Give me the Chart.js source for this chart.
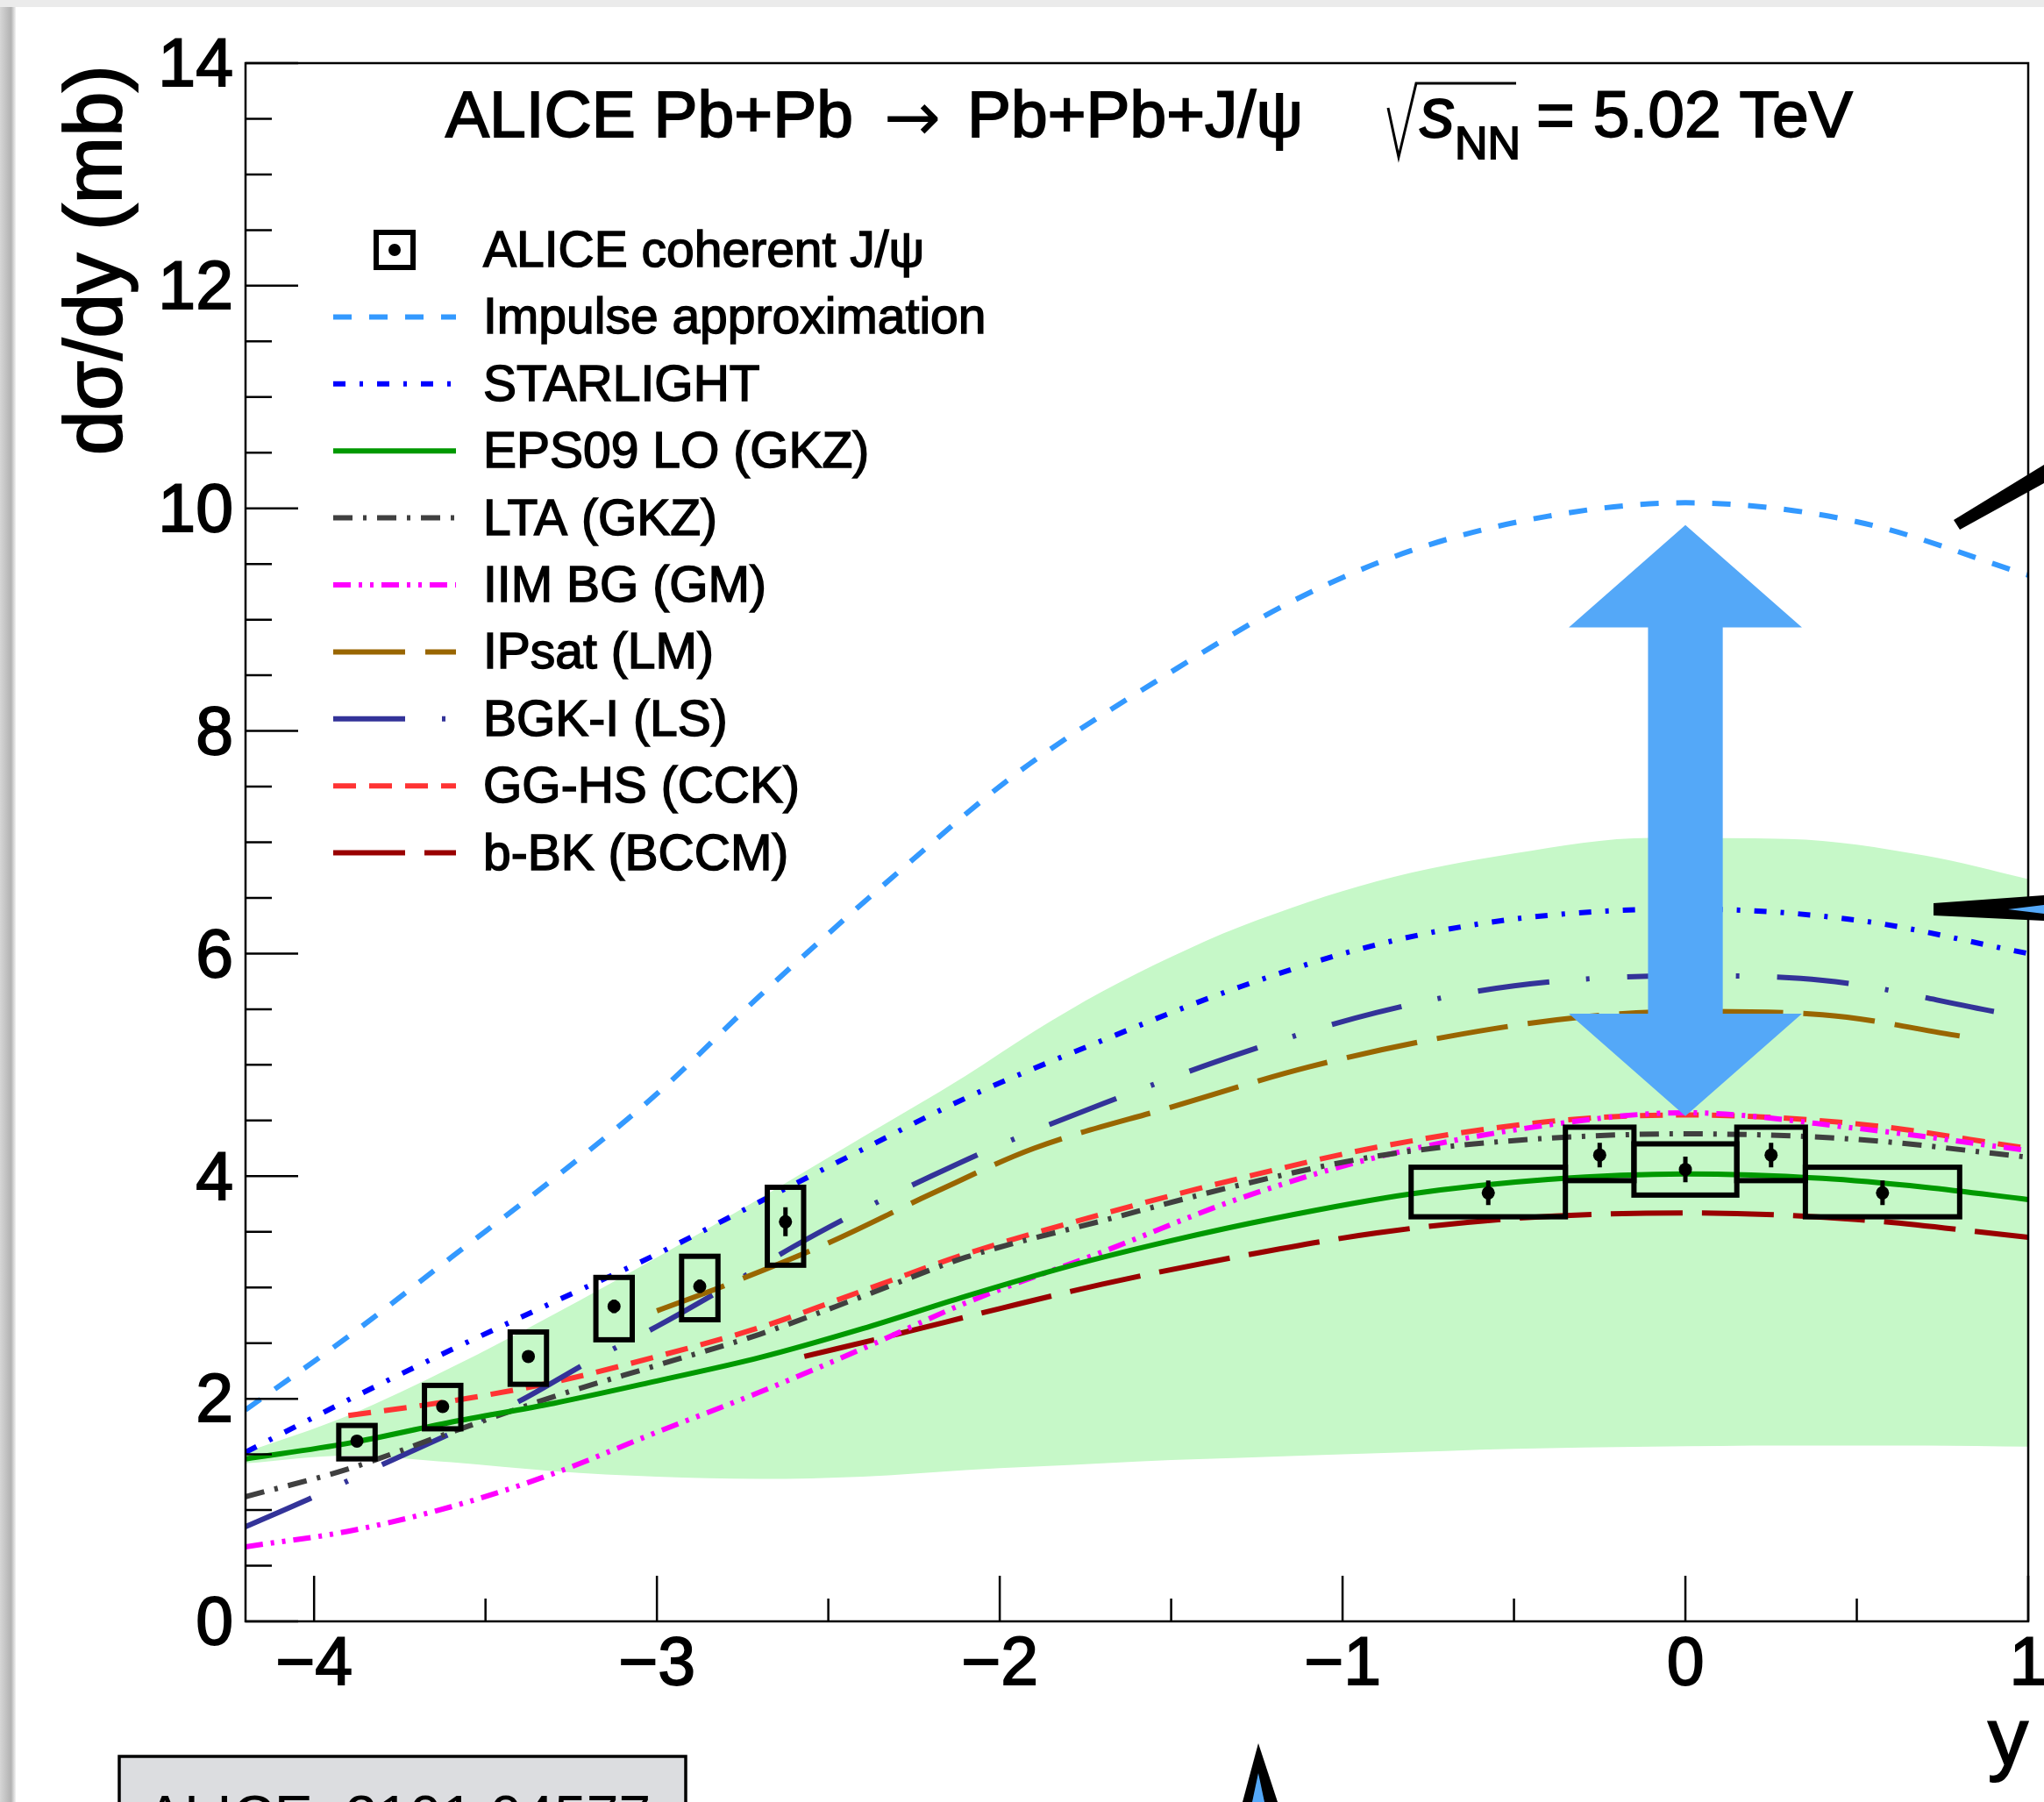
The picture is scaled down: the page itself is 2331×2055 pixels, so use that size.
<!DOCTYPE html>
<html>
<head>
<meta charset="utf-8">
<script src="https://cdn.jsdelivr.net/npm/chart.js@4.4.1/dist/chart.umd.min.js"></script>
<style>
  html, body { margin: 0; padding: 0; background: #fff; overflow: hidden; }
  canvas { display: block; }
</style>
</head>
<body>
<canvas id="c" width="2331" height="2055"></canvas>
<script>
// axes
const xTickValues = [-4, -3, -2, -1, 0, 1];
const xTickLabels = ['\u22124', '\u22123', '\u22122', '\u22121', '0', '1'];
const yTickValues = [0, 2, 4, 6, 8, 10, 12, 14];
const yTickLabels = ['0', '2', '4', '6', '8', '10', '12', '14'];

// ALICE coherent J/psi, forward + central rapidity
const aliceX = [-3.875, -3.625, -3.375, -3.125, -2.875, -2.625, -0.575, -0.25, 0, 0.25, 0.575];
const aliceY = [1.62, 1.93, 2.38, 2.83, 3.01, 3.59, 3.85, 4.19, 4.06, 4.19, 3.85];
const aliceStat = [0.04, 0.04, 0.05, 0.06, 0.06, 0.13, 0.11, 0.11, 0.115, 0.11, 0.11];
const aliceSysLo = [1.46, 1.73, 2.13, 2.53, 2.71, 3.20, 3.635, 3.96, 3.83, 3.96, 3.635];
const aliceSysHi = [1.76, 2.12, 2.60, 3.09, 3.28, 3.90, 4.08, 4.44, 4.29, 4.44, 4.08];
const aliceBoxLo = [-3.928, -3.678, -3.428, -3.178, -2.928, -2.678, -0.8, -0.35, -0.15, 0.15, 0.35];
const aliceBoxHi = [-3.822, -3.572, -3.322, -3.072, -2.822, -2.572, -0.35, -0.15, 0.15, 0.35, 0.8];

// models
const impulseX = [-4.2, -3.9, -3.6, -3.3, -3.0, -2.7, -2.3, -1.95, -1.5, -1.15, -0.8, -0.4, 0, 0.5, 1.0];
const impulseY = [1.90, 2.56, 3.27, 3.98, 4.74, 5.62, 6.72, 7.62, 8.53, 9.16, 9.62, 9.93, 10.05, 9.88, 9.40];

const starlightX = [-4.2, -3.9, -3.6, -3.3, -3.0, -2.7, -2.4, -2.1, -1.7, -1.3, -0.9, -0.5, 0, 0.5, 1.0];
const starlightY = [1.52, 1.99, 2.44, 2.87, 3.30, 3.77, 4.24, 4.70, 5.22, 5.70, 6.08, 6.31, 6.40, 6.30, 6.00];

const eps09X = [-4.2, -3.9, -3.6, -3.3, -3.0, -2.7, -2.4, -2.1, -1.8, -1.5, -1.2, -0.8, -0.4, 0, 0.4, 0.7, 1.0];
const eps09Y = [1.46, 1.60, 1.79, 1.96, 2.16, 2.37, 2.63, 2.92, 3.19, 3.42, 3.62, 3.84, 3.97, 4.02, 3.98, 3.90, 3.79];

const bandX = [-4.2, -3.9, -3.6, -3.3, -3.0, -2.7, -2.4, -2.1, -1.9, -1.7, -1.5, -1.3, -0.9, -0.5, -0.1, 0.3, 0.7, 1.0];
const bandHi = [1.52, 1.85, 2.28, 2.76, 3.27, 3.80, 4.35, 4.90, 5.30, 5.66, 5.97, 6.24, 6.65, 6.90, 7.04, 7.03, 6.88, 6.67];
const bandLo = [1.42, 1.49, 1.43, 1.35, 1.30, 1.28, 1.30, 1.36, 1.39, 1.42, 1.45, 1.47, 1.51, 1.55, 1.57, 1.58, 1.58, 1.57];

const ltaX = [-4.2, -3.9, -3.6, -3.3, -3.0, -2.7, -2.4, -2.1, -1.7, -1.3, -0.9, -0.5, 0, 0.5, 1.0];
const ltaY = [1.12, 1.37, 1.70, 2.02, 2.30, 2.58, 2.92, 3.27, 3.60, 3.92, 4.18, 4.32, 4.38, 4.33, 4.17];

const iimX = [-4.2, -3.9, -3.6, -3.3, -3.0, -2.7, -2.4, -2.1, -1.7, -1.3, -0.9, -0.4, 0, 0.5, 1.0];
const iimY = [0.67, 0.81, 1.03, 1.33, 1.70, 2.06, 2.45, 2.86, 3.32, 3.80, 4.17, 4.46, 4.57, 4.43, 4.23];

const ipsatX = [-3.0, -2.8, -2.5, -2.2, -1.9, -1.5, -1.1, -0.7, -0.3, 0, 0.4, 0.8];
const ipsatY = [2.79, 3.02, 3.40, 3.84, 4.25, 4.62, 4.98, 5.25, 5.43, 5.48, 5.45, 5.26];

const bgkX = [-4.2, -4.0, -3.8, -3.6, -3.4, -3.2, -3.0, -2.8, -2.6, -2.4, -2.2, -2.0, -1.7, -1.3, -0.9, -0.5, 0, 0.4, 0.9];
const bgkY = [0.85, 1.12, 1.41, 1.69, 1.98, 2.33, 2.65, 3.00, 3.37, 3.70, 4.00, 4.28, 4.65, 5.10, 5.47, 5.71, 5.80, 5.76, 5.48];

const gghsX = [-3.9, -3.6, -3.3, -3.0, -2.7, -2.4, -2.1, -1.7, -1.3, -0.9, -0.4, 0, 0.5, 1.0];
const gghsY = [1.85, 1.98, 2.15, 2.38, 2.64, 2.97, 3.30, 3.66, 3.98, 4.26, 4.49, 4.55, 4.47, 4.25];

const bbkX = [-2.57, -2.3, -2.0, -1.7, -1.3, -0.9, -0.5, 0, 0.5, 1.0];
const bbkY = [2.38, 2.58, 2.81, 3.03, 3.28, 3.49, 3.62, 3.67, 3.61, 3.45];

// blue double arrow (data units), from impulse down to the data
const arrowX = 0;
const arrowTop = 9.85, arrowHeadTop = 8.93, arrowHeadBot = 5.46, arrowBot = 4.54;
const arrowHead = 0.34, arrowShaft = 0.109;

const FONT = '"Liberation Sans", Arial, sans-serif';

function pts(xs, ys) {
    return xs.map((x, i) => ({x: x, y: ys[i]}));
}

function curve(label, xs, ys, color, dash) {
    return {
        label: label,
        data: pts(xs, ys),
        borderColor: color,
        borderWidth: 6,
        borderDash: dash,
        borderCapStyle: 'butt',
        pointRadius: 0,
        fill: false,
        cubicInterpolationMode: 'monotone',
        order: 1
    };
}

// text a bit heavier, like the ROOT pdf
function heavyText(ctx, txt, x, y) {
    ctx.fillText(txt, x, y);
    ctx.strokeText(txt, x, y);
}

// page background, slide shadow
const backgroundPlugin = {
    id: 'bg',
    beforeDraw(chart) {
        const ctx = chart.ctx;
        ctx.save();
        ctx.fillStyle = '#fff';
        ctx.fillRect(0, 0, chart.width, chart.height);
        ctx.fillStyle = '#ebebeb';
        ctx.fillRect(0, 0, chart.width, 8);
        let g = ctx.createLinearGradient(0, 0, 18, 0);
        g.addColorStop(0, '#d6d6d6');
        g.addColorStop(0.7, '#b2b2b2');
        g.addColorStop(1, '#f4f4f4');
        ctx.fillStyle = g;
        ctx.fillRect(0, 8, 18, chart.height);
        ctx.restore();
    }
};

// systematic boxes + stat error bars
const boxesPlugin = {
    id: 'aliceBoxes',
    afterDatasetsDraw(chart) {
        const {ctx, scales: {x, y}} = chart;
        ctx.save();
        ctx.strokeStyle = '#000';
        ctx.lineWidth = 6;
        for (let i = 0; i < aliceX.length; i++) {
            const x1 = x.getPixelForValue(aliceBoxLo[i]);
            const x2 = x.getPixelForValue(aliceBoxHi[i]);
            const y1 = y.getPixelForValue(aliceSysHi[i]);
            const y2 = y.getPixelForValue(aliceSysLo[i]);
            ctx.strokeRect(x1, y1, x2 - x1, y2 - y1);
        }
        ctx.lineWidth = 5;
        ctx.beginPath();
        for (let i = 0; i < aliceX.length; i++) {
            const px = x.getPixelForValue(aliceX[i]);
            ctx.moveTo(px, y.getPixelForValue(aliceY[i] + aliceStat[i]));
            ctx.lineTo(px, y.getPixelForValue(aliceY[i] - aliceStat[i]));
        }
        ctx.stroke();
        ctx.restore();
    }
};

const arrowPlugin = {
    id: 'blueArrow',
    afterDatasetsDraw(chart) {
        const {ctx, scales: {x, y}} = chart;
        const cx = x.getPixelForValue(arrowX);
        const hw = x.getPixelForValue(arrowX + arrowHead) - cx;
        const sw = x.getPixelForValue(arrowX + arrowShaft) - cx;
        const t = y.getPixelForValue(arrowTop), ht = y.getPixelForValue(arrowHeadTop);
        const hb = y.getPixelForValue(arrowHeadBot), b = y.getPixelForValue(arrowBot);
        ctx.save();
        ctx.fillStyle = '#54a8f8';
        ctx.beginPath();
        ctx.moveTo(cx, t);
        ctx.lineTo(cx + hw, ht);
        ctx.lineTo(cx + sw, ht);
        ctx.lineTo(cx + sw, hb);
        ctx.lineTo(cx + hw, hb);
        ctx.lineTo(cx, b);
        ctx.lineTo(cx - hw, hb);
        ctx.lineTo(cx - sw, hb);
        ctx.lineTo(cx - sw, ht);
        ctx.lineTo(cx - hw, ht);
        ctx.closePath();
        ctx.fill();
        ctx.restore();
    }
};

// ROOT style frame with inward ticks
const framePlugin = {
    id: 'frame',
    afterDatasetsDraw(chart) {
        const {ctx, chartArea: a, scales: {x, y}} = chart;
        ctx.save();
        ctx.strokeStyle = '#000';
        ctx.lineWidth = 2.5;
        ctx.strokeRect(a.left, a.top, a.right - a.left, a.bottom - a.top);
        ctx.beginPath();
        for (let v = 0; v <= 14; v += 0.5) {
            const p = y.getPixelForValue(v);
            const len = v % 2 === 0 ? 60 : 30;
            ctx.moveTo(a.left, p);
            ctx.lineTo(a.left + len, p);
        }
        for (let v = -4; v <= 1; v += 0.5) {
            const p = x.getPixelForValue(v);
            const len = Number.isInteger(v) ? 52 : 26;
            ctx.moveTo(p, a.bottom);
            ctx.lineTo(p, a.bottom - len);
        }
        ctx.stroke();
        ctx.restore();
    }
};

const legendPlugin = {
    id: 'rootLegend',
    afterDatasetsDraw(chart) {
        const ctx = chart.ctx;
        const sets = chart.data.datasets.filter(d => d.label);
        ctx.save();
        ctx.font = '57px ' + FONT;
        ctx.textBaseline = 'alphabetic';
        sets.forEach((d, i) => {
            const yy = 285 + i * 76.4;
            if (d.showLine === false) {
                ctx.strokeStyle = '#000';
                ctx.lineWidth = 6;
                ctx.strokeRect(429, yy - 20, 42, 40);
                ctx.fillStyle = '#000';
                ctx.beginPath();
                ctx.arc(450, yy, 7, 0, 2 * Math.PI);
                ctx.fill();
            } else {
                ctx.strokeStyle = d.borderColor;
                ctx.lineWidth = d.borderWidth;
                ctx.setLineDash(d.borderDash || []);
                ctx.beginPath();
                ctx.moveTo(380, yy);
                ctx.lineTo(520, yy);
                ctx.stroke();
                ctx.setLineDash([]);
            }
            ctx.fillStyle = '#000';
            ctx.strokeStyle = '#000';
            ctx.lineWidth = 1.5;
            heavyText(ctx, d.label, 551, yy + 19);
        });
        ctx.restore();
    }
};

// titles and slide leftovers around the plot
const textPlugin = {
    id: 'texts',
    afterDraw(chart) {
        const ctx = chart.ctx;
        ctx.save();
        ctx.fillStyle = '#000';
        ctx.strokeStyle = '#000';
        ctx.textBaseline = 'alphabetic';
        ctx.lineWidth = 1.8;

        ctx.font = '75px ' + FONT;
        heavyText(ctx, 'ALICE Pb+Pb', 508, 156);
        ctx.font = '78px "DejaVu Sans", sans-serif';
        ctx.fillText('\u2192', 1008, 160);
        ctx.font = '75px ' + FONT;
        heavyText(ctx, 'Pb+Pb+J/\u03c8', 1103, 156);
        // sqrt(s_NN)
        ctx.lineWidth = 3;
        ctx.beginPath();
        ctx.moveTo(1583, 123);
        ctx.lineTo(1595, 179);
        ctx.lineTo(1615, 95);
        ctx.lineTo(1729, 95);
        ctx.stroke();
        ctx.lineWidth = 1.8;
        ctx.font = 'italic 80px ' + FONT;
        heavyText(ctx, 's', 1619, 156);
        ctx.font = '52px ' + FONT;
        heavyText(ctx, 'NN', 1659, 181);
        ctx.font = '75px ' + FONT;
        heavyText(ctx, '= 5.02 TeV', 1752, 156);

        // axis titles
        ctx.font = '92px ' + FONT;
        ctx.save();
        ctx.translate(138, 74);
        ctx.rotate(-Math.PI / 2);
        ctx.textAlign = 'right';
        heavyText(ctx, 'd\u03c3/dy (mb)', 0, 0);
        ctx.restore();
        ctx.textAlign = 'right';
        heavyText(ctx, 'y', 2313, 2013);
        ctx.textAlign = 'left';

        // reference box (cut by the bottom edge)
        ctx.fillStyle = '#dcdde0';
        ctx.fillRect(136, 2003, 646, 70);
        ctx.lineWidth = 3.5;
        ctx.strokeRect(136, 2003, 646, 70);
        ctx.fillStyle = '#000';
        ctx.font = '66px ' + FONT;
        ctx.fillText('ALICE, 2101.04577', 166, 2094);

        // black pointers coming from outside
        ctx.beginPath();
        ctx.moveTo(2228, 593); ctx.lineTo(2331, 530); ctx.lineTo(2331, 551); ctx.lineTo(2235, 604);
        ctx.closePath(); ctx.fill();
        ctx.beginPath();
        ctx.moveTo(2205, 1030); ctx.lineTo(2331, 1021); ctx.lineTo(2331, 1050); ctx.lineTo(2205, 1044);
        ctx.closePath(); ctx.fill();
        ctx.beginPath();
        ctx.moveTo(1435, 1988); ctx.lineTo(1457, 2055); ctx.lineTo(1417, 2055);
        ctx.closePath(); ctx.fill();
        ctx.fillStyle = '#54a8f8';
        ctx.beginPath();
        ctx.moveTo(2290, 1037); ctx.lineTo(2331, 1032); ctx.lineTo(2331, 1042);
        ctx.closePath(); ctx.fill();
        ctx.beginPath();
        ctx.moveTo(1435, 2022); ctx.lineTo(1442, 2055); ctx.lineTo(1428, 2055);
        ctx.closePath(); ctx.fill();
        ctx.restore();
    }
};

const datasets = [
    {
        label: 'ALICE coherent J/\u03c8',
        data: pts(aliceX, aliceY),
        showLine: false,
        pointRadius: 7.5,
        pointBackgroundColor: '#000',
        pointBorderWidth: 0,
        order: 0
    },
    curve('Impulse approximation', impulseX, impulseY, '#3399ff', [21, 20]),
    curve('STARLIGHT', starlightX, starlightY, '#0000ff', [14, 16, 4, 16]),
    curve('EPS09 LO (GKZ)', eps09X, eps09Y, '#009900', []),
    curve('LTA (GKZ)', ltaX, ltaY, '#404040', [22, 12, 4, 12]),
    curve('IIM BG (GM)', iimX, iimY, '#ff00ff', [20, 9, 4, 9, 4, 9]),
    curve('IPsat (LM)', ipsatX, ipsatY, '#996600', [82, 23]),
    curve('BGK-I (LS)', bgkX, bgkY, '#333399', [82, 42, 4, 43]),
    curve('GG-HS (CCK)', gghsX, gghsY, '#ff3333', [26, 15]),
    curve('b-BK (BCCM)', bbkX, bbkY, '#990000', [82, 22]),
    {
        data: pts(bandX, bandHi),
        borderWidth: 0,
        pointRadius: 0,
        backgroundColor: '#c6f8c8',
        fill: '+1',
        cubicInterpolationMode: 'monotone',
        order: 2
    },
    {
        data: pts(bandX, bandLo),
        borderWidth: 0,
        pointRadius: 0,
        fill: false,
        cubicInterpolationMode: 'monotone',
        order: 2
    }
];

new Chart(document.getElementById('c'), {
    type: 'line',
    data: { datasets: datasets },
    options: {
        responsive: false,
        devicePixelRatio: 1,
        animation: false,
        layout: { padding: { top: 72, right: 18, left: 0, bottom: 0 } },
        plugins: {
            legend: { display: false },
            tooltip: { enabled: false }
        },
        scales: {
            x: {
                type: 'linear',
                min: -4.2,
                max: 1,
                grid: { display: false, drawTicks: false },
                border: { display: false },
                afterBuildTicks: s => { s.ticks = xTickValues.map(v => ({value: v})); },
                afterFit: s => { s.height = 206; s.paddingLeft = 0; s.paddingRight = 0; },
                ticks: {
                    padding: 5,
                    color: '#000',
                    textStrokeColor: '#000',
                    textStrokeWidth: 1.8,
                    maxRotation: 0,
                    autoSkip: false,
                    font: { family: FONT, size: 77 },
                    callback: v => xTickLabels[xTickValues.indexOf(v)]
                }
            },
            y: {
                type: 'linear',
                min: 0,
                max: 14,
                grid: { display: false, drawTicks: false },
                border: { display: false },
                afterBuildTicks: s => { s.ticks = yTickValues.map(v => ({value: v})); },
                afterFit: s => { s.width = 280; s.paddingTop = 0; s.paddingBottom = 0; },
                ticks: {
                    padding: 14,
                    labelOffset: 5,
                    color: '#000',
                    textStrokeColor: '#000',
                    textStrokeWidth: 1.8,
                    autoSkip: false,
                    font: { family: FONT, size: 77 },
                    callback: v => yTickLabels[yTickValues.indexOf(v)]
                }
            }
        }
    },
    plugins: [backgroundPlugin, boxesPlugin, arrowPlugin, framePlugin, legendPlugin, textPlugin]
});
</script>
</body>
</html>
